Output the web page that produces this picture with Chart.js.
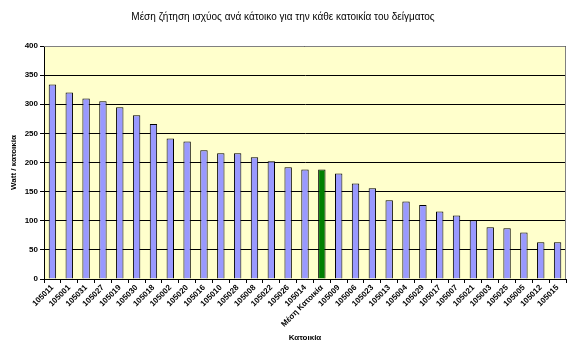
<!DOCTYPE html>
<html>
<head>
<meta charset="utf-8">
<script src="https://cdn.jsdelivr.net/npm/chart.js@4"></script>
<style>
  body { margin: 0; background: #fff; }
  #wrap { width: 576px; height: 354px; }
</style>
</head>
<body>
<div id="wrap"><canvas id="myChart" width="576" height="354"></canvas></div>
<script>
var ctx = document.getElementById('myChart').getContext('2d');

var houses = ['105011', '105001', '105031', '105027', '105019', '105030', '105018', '105002',
  '105020', '105016', '105010', '105028', '105008', '105022', '105026', '105014',
  'Μέση Κατοικία', '105009', '105006', '105023', '105013', '105004', '105029', '105017',
  '105007', '105021', '105003', '105025', '105005', '105012', '105015'];
var watts = [334, 320, 310, 305, 295, 281, 266, 241, 236, 221, 216, 216, 209, 202, 192, 188,
  188, 181, 164, 156, 135, 133, 127, 116, 109, 101, 89, 87, 80, 63, 63];
var yTicks = [0, 50, 100, 150, 200, 250, 300, 350, 400];

var barColors = houses.map(function(h) {
  return h === 'Μέση Κατοικία' ? '#008000' : '#9999FF';
});

// plot area background + grey frame on top/right
var plotBg = {
  id: 'plotBg',
  beforeDraw: function(chart) {
    var a = chart.chartArea, c = chart.ctx;
    c.save();
    c.fillStyle = '#FFFFCC';
    c.fillRect(a.left, a.top, a.right - a.left, a.bottom - a.top);
    c.restore();
  },
  afterDraw: function(chart) {
    var a = chart.chartArea, c = chart.ctx;
    c.save();
    c.strokeStyle = '#808080';
    c.lineWidth = 1;
    c.beginPath();
    c.moveTo(a.left, a.top + 0.5);
    c.lineTo(a.right - 0.5, a.top + 0.5);
    c.lineTo(a.right - 0.5, a.bottom);
    c.stroke();
    c.restore();
  }
};

var chart = new Chart(ctx, {
  type: 'bar',
  data: {
    labels: houses,
    datasets: [{
      data: watts,
      backgroundColor: barColors,
      borderColor: '#000',
      borderWidth: 1,
      barPercentage: 1,
      categoryPercentage: 0.44
    }]
  },
  options: {
    responsive: false,
    animation: false,
    layout: { padding: { left: 0, right: 10, top: 0, bottom: 11 } },
    plugins: {
      legend: { display: false },
      tooltip: { enabled: false },
      title: {
        display: true,
        text: 'Μέση ζήτηση ισχύος ανά κάτοικο για την κάθε κατοικία του δείγματος',
        color: '#000',
        font: { family: 'Liberation Sans', size: 10, weight: 'normal' },
        padding: { top: 11, bottom: 23 }
      }
    },
    scales: {
      x: {
        afterFit: function(s) { s.height = 64; },
        grid: { drawOnChartArea: false, color: '#000', tickLength: 4, offset: true },
        border: { color: '#000' },
        ticks: {
          color: '#000',
          minRotation: 45,
          maxRotation: 45,
          autoSkip: false,
          padding: 0,
          font: { family: 'Liberation Sans', size: 8, weight: 'bold' }
        },
        title: {
          display: true,
          text: 'Κατοικία',
          color: '#000',
          padding: 0,
          font: { family: 'Liberation Sans', size: 8, weight: 'bold' }
        }
      },
      y: {
        min: 0,
        max: 400,
        afterFit: function(s) { s.width = 44; },
        afterBuildTicks: function(s) {
          s.ticks = yTicks.map(function(v) { return { value: v }; });
        },
        grid: { color: '#000', tickLength: 4 },
        border: { color: '#000' },
        ticks: {
          color: '#000',
          padding: 2,
          font: { family: 'Liberation Sans', size: 8, weight: 'bold' }
        },
        title: {
          display: true,
          text: 'Watt / κατοικία',
          color: '#000',
          padding: { top: 9, bottom: 0 },
          font: { family: 'Liberation Sans', size: 8, weight: 'bold' }
        }
      }
    }
  },
  plugins: [plotBg]
});
</script>
</body>
</html>
